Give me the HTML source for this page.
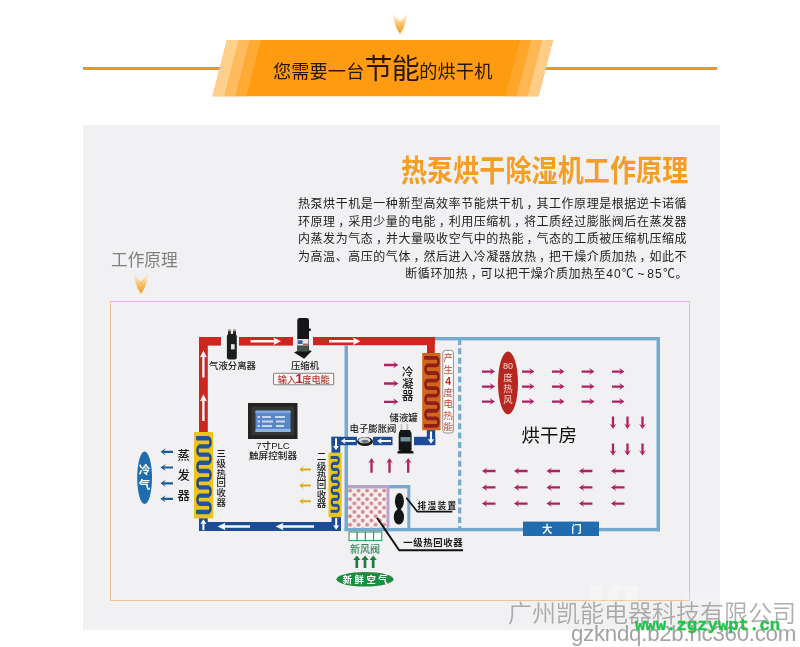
<!DOCTYPE html>
<html lang="zh-CN">
<head>
<meta charset="utf-8">
<title>热泵烘干除湿机工作原理</title>
<style>
html,body{margin:0;padding:0;background:#fff;}
body{width:800px;height:647px;position:relative;overflow:hidden;font-family:"Liberation Sans","Noto Sans CJK SC",sans-serif;}
.abs{position:absolute;white-space:nowrap;will-change:transform;}
#panel{left:83px;top:125px;width:637px;height:505px;background:#f1f1f3;}
#frame{left:110px;top:301px;width:577.8px;height:298.3px;border:1px solid #edc58e;}
#lineL{left:83px;top:67px;width:140px;height:3px;background:#ee9420;}
#lineR{left:544px;top:67px;width:173px;height:3px;background:#ee9420;}
#bannerText{left:272.5px;top:46.8px;height:44px;line-height:44px;color:#2a1600;font-size:18.2px;letter-spacing:0.1px;}
#bannerText b{font-weight:400;font-size:28px;position:relative;top:0.6px;letter-spacing:-0.6px;}
#title{left:401px;top:151.4px;font-size:26px;line-height:40px;font-weight:700;color:#f59e26;letter-spacing:0.12px;transform:scaleY(1.13);transform-origin:0 50%;}
#para{left:298px;top:196.1px;width:390px;font-size:12px;line-height:17.5px;color:#222;letter-spacing:0.55px;white-space:normal;}
#para div{white-space:nowrap;height:17.5px;}
#para div.r{text-align:right;}
#para .t{font-family:"Liberation Sans",sans-serif;letter-spacing:-0.2px;}
#para .n{letter-spacing:1.1px;}
#para i{font-style:normal;position:relative;left:2.6px;}
#label{left:111px;top:249.2px;font-size:16.7px;line-height:24px;color:#7f7f7f;letter-spacing:-0.05px;}
#wm1{left:508px;top:597.5px;font-size:24px;line-height:32px;color:rgba(140,140,140,.7);font-weight:350;}
#wm2{left:570.5px;top:620.4px;font-size:22.3px;line-height:28px;color:rgba(150,150,150,.88);letter-spacing:-0.28px;}
#wm3{left:635.3px;top:615.4px;font-size:17.3px;line-height:22px;font-weight:700;color:#20c34a;-webkit-text-stroke:0.35px #20c34a;font-family:"Liberation Mono",monospace;}
svg text{font-family:"Liberation Sans","Noto Sans CJK SC",sans-serif;}
</style>
</head>
<body>
<div id="panel" class="abs"></div>
<div id="lineL" class="abs"></div>
<div id="lineR" class="abs"></div>
<svg class="abs" style="left:0;top:0" width="800" height="647" viewBox="0 0 800 647">
  <defs>
    <linearGradient id="chev" x1="0" y1="0" x2="0" y2="1">
      <stop offset="0" stop-color="#ffe3b5" stop-opacity="0.15"/>
      <stop offset="0.5" stop-color="#fbc165"/>
      <stop offset="1" stop-color="#f09a22"/>
    </linearGradient>
    <g id="chevron">
      <path d="M-7.2 0 L0 8.5 L7.2 0 L6.9 4.5 L0 13 L-6.9 4.5 Z M-6.2 5.5 L0 13.2 L6.2 5.5 L5.6 9.6 L0 17.2 L-5.6 9.6 Z M-4.8 10.6 L0 16.8 L4.8 10.6 L3.9 14.6 L0 21 L-3.9 14.6 Z" fill="url(#chev)"/>
    </g>
  </defs>
  <!-- banner -->
  <g id="banner">
    <polygon points="227,40 553,40 538.5,96.3 212.5,96.3" fill="#ff9b10"/>
    <polygon points="227,40 239,40 224.5,96.3 212.5,96.3" fill="#ffd08c"/>
    <polygon points="239,40 250,40 235.5,96.3 224.5,96.3" fill="#ffbb5d"/>
    <polygon points="250,40 261,40 246.5,96.3 235.5,96.3" fill="#ffaa33"/>
    <polygon points="520,40 531,40 516.5,96.3 505.5,96.3" fill="#ffa62b"/>
    <polygon points="531,40 542,40 527.5,96.3 516.5,96.3" fill="#ffb754"/>
    <polygon points="542,40 553,40 538.5,96.3 527.5,96.3" fill="#ffcd88"/>
  </g>
  <use href="#chevron" x="400" y="13"/>
  <use href="#chevron" x="141" y="273"/>
</svg>
<div id="bannerText" class="abs">您需要一台<b>节能</b>的烘干机</div>
<div id="title" class="abs">热泵烘干除湿机工作原理</div>
<div id="para" class="abs">
<div>热泵烘干机是一种新型高效率节能烘干机<i>，</i>其工作原理是根据逆卡诺循</div>
<div>环原理<i>，</i>采用少量的电能<i>，</i>利用压缩机<i>，</i>将工质经过膨胀阀后在蒸发器</div>
<div>内蒸发为气态<i>，</i>并大量吸收空气中的热能<i>，</i>气态的工质被压缩机压缩成</div>
<div>为高温、高压的气体<i>，</i>然后进入冷凝器放热<i>，</i>把干燥介质加热<i>，</i>如此不</div>
<div class="r">断循环加热<i>，</i>可以把干燥介质加热至<span class="n">40</span>℃<span class="t">&nbsp;~&nbsp;</span><span class="n">85</span>℃。</div>
</div>
<div id="label" class="abs">工作原理</div>
<div id="frame" class="abs"></div>
<svg class="abs" style="left:0;top:0" width="800" height="647" viewBox="0 0 800 647">
<g id="room" fill="#76a9cf">
<rect x="434.8" y="337" width="225.2" height="3.4"/>
<rect x="656.5" y="337" width="3.5" height="194.3"/>
<rect x="344.5" y="527.9" width="315.5" height="3.4"/>
<rect x="344.5" y="345.5" width="3.5" height="185.5"/>
<rect x="388" y="485" width="22" height="3.4"/>
<rect x="407.3" y="485" width="3" height="45"/>
</g>
<line x1="459.7" y1="338.9" x2="459.7" y2="528" stroke="#76a9cf" stroke-width="3.2" stroke-dasharray="6 3.37"/>
<defs><pattern id="dots" x="348" y="488.4" width="8.5" height="8.54" patternUnits="userSpaceOnUse"><rect width="8.6" height="8.6" fill="#fbf0f0"/><circle cx="2.1" cy="2.2" r="2" fill="#cf8a91"/><circle cx="6.35" cy="6.47" r="2" fill="#cf8a91"/></pattern></defs>
<rect x="348" y="488.4" width="39.5" height="39.2" fill="url(#dots)"/>
<rect x="348" y="485" width="41" height="3.4" fill="#b2a3cf"/>
<rect x="386.6" y="485" width="2.8" height="42.6" fill="#b2a3cf"/>
<ellipse cx="399.4" cy="501.2" rx="4.5" ry="8.2" fill="#151515"/><rect x="397.4" y="505" width="3.6" height="8" fill="#151515"/>
<ellipse cx="398.9" cy="516.8" rx="5.2" ry="7.6" fill="#151515"/>
<g id="redpipe" fill="#c9271f">
<rect x="199" y="337" width="8.8" height="95"/>
<rect x="199" y="337" width="22" height="8.6"/>
<rect x="239" y="337" width="54" height="8.6"/>
<rect x="313" y="337" width="121.8" height="8.2"/>
<rect x="427" y="337" width="7.8" height="16.5"/>
</g>
<path d="M250.5 340 H274.25 L273.5 337.5 L281 341.2 L273.5 344.9 L274.25 342.4 H250.5 Z" fill="#fff7f5"/>
<path d="M329 340 H353.75 L353 337.5 L360.5 341.2 L353 344.9 L353.75 342.4 H329 Z" fill="#fff7f5"/>
<path d="M202.2 377.5 V356.8 L199.9 357.5 L203.4 350.5 L206.9 357.5 L204.6 356.8 V377.5 Z" fill="#fff7f5"/>
<path d="M202.2 421 V400.5 L199.9 401.2 L203.4 394.2 L206.9 401.2 L204.6 400.5 V421 Z" fill="#fff7f5"/>
<g id="bluepipe" fill="#1c4c97">
<rect x="199" y="522" width="142" height="9"/>
<rect x="199" y="518" width="8.8" height="6"/>
<rect x="331.5" y="517" width="9.5" height="14"/>
<rect x="331.5" y="436.8" width="8.8" height="16"/>
<rect x="331.5" y="436.8" width="25.5" height="8.4"/>
<rect x="373" y="436.8" width="19.5" height="8.4"/>
<rect x="414" y="436.8" width="21.2" height="8.4"/>
<rect x="426.8" y="430" width="8.4" height="15"/>
</g>
<path d="M250 525.25 H224.7 L225.5 522.8 L217.5 526.5 L225.5 530.2 L224.7 527.75 H250 Z" fill="#f3f7fc"/>
<path d="M314 525.25 H282.7 L283.5 522.8 L275.5 526.5 L283.5 530.2 L282.7 527.75 H314 Z" fill="#f3f7fc"/>
<path d="M202.4 530.3 V523.44 L200.3 523.9 L203.4 519.3 L206.5 523.9 L204.4 523.44 V530.3 Z" fill="#fff"/>
<path d="M335.2 518 V525.66 L333.1 525.2 L336.2 529.8 L339.3 525.2 L337.2 525.66 V518 Z" fill="#fff"/>
<path d="M335 438.3 V446.16 L332.9 445.7 L336 450.3 L339.1 445.7 L337 446.16 V438.3 Z" fill="#fff"/>
<path d="M355.5 440 H344.94 L345.4 438 L340.8 441 L345.4 444 L344.94 442 H355.5 Z" fill="#eef4fb"/>
<path d="M391 440 H381.14 L381.6 438 L377 441 L381.6 444 L381.14 442 H391 Z" fill="#eef4fb"/>
<path d="M429.95 431.5 V439.48 L427.8 439 L431 443.8 L434.2 439 L432.05 439.48 V431.5 Z" fill="#fff"/>
<rect x="194" y="432" width="19.2" height="86.4" fill="#ecc41c"/>
<path d="M196.3 438.2 H208.8 A1.7 4.1 0 0 1 208.8 446.4 H199.2 A1.7 4.1 0 0 0 199.2 454.6 H208.8 A1.7 4.1 0 0 1 208.8 462.8 H199.2 A1.7 4.1 0 0 0 199.2 471 H208.8 A1.7 4.1 0 0 1 208.8 479.2 H199.2 A1.7 4.1 0 0 0 199.2 487.4 H208.8 A1.7 4.1 0 0 1 208.8 495.6 H199.2 A1.7 4.1 0 0 0 199.2 503.8 H208.8 A1.7 4.1 0 0 1 208.8 512 H196.3" fill="none" stroke="#1d4689" stroke-width="2.4" stroke-linecap="butt"/><path d="M196.3 438.2H209.3M198.7 446.4H209.3M198.7 454.6H209.3M198.7 462.8H209.3M198.7 471H209.3M198.7 479.2H209.3M198.7 487.4H209.3M198.7 495.6H209.3M198.7 503.8H209.3M196.3 512H209.3" fill="none" stroke="#2054a2" stroke-width="4.4"/>
<rect x="422.2" y="353" width="18.3" height="77.2" fill="#d0661b"/>
<path d="M424.3 357.9 H436.7 A1.7 3.77 0 0 1 436.7 365.45 H427.2 A1.7 3.77 0 0 0 427.2 373 H436.7 A1.7 3.77 0 0 1 436.7 380.55 H427.2 A1.7 3.77 0 0 0 427.2 388.1 H436.7 A1.7 3.77 0 0 1 436.7 395.65 H427.2 A1.7 3.77 0 0 0 427.2 403.2 H436.7 A1.7 3.77 0 0 1 436.7 410.75 H427.2 A1.7 3.77 0 0 0 427.2 418.3 H436.7 A1.7 3.77 0 0 1 436.7 425.85 H424.3" fill="none" stroke="#861a17" stroke-width="2.4" stroke-linecap="butt"/><path d="M424.3 357.9H437.2M426.7 365.45H437.2M426.7 373H437.2M426.7 380.55H437.2M426.7 388.1H437.2M426.7 395.65H437.2M426.7 403.2H437.2M426.7 410.75H437.2M426.7 418.3H437.2M424.3 425.85H437.2" fill="none" stroke="#921e1a" stroke-width="3.8"/>
<rect x="328.5" y="452.8" width="13.2" height="64.4" fill="#ecc41c"/>
<path d="M330.8 457.5 H337.5 A1.2 2.98 0 0 1 337.5 463.47 H333 A1.2 2.98 0 0 0 333 469.44 H337.5 A1.2 2.98 0 0 1 337.5 475.41 H333 A1.2 2.98 0 0 0 333 481.38 H337.5 A1.2 2.98 0 0 1 337.5 487.35 H333 A1.2 2.98 0 0 0 333 493.32 H337.5 A1.2 2.98 0 0 1 337.5 499.29 H333 A1.2 2.98 0 0 0 333 505.26 H337.5 A1.2 2.98 0 0 1 337.5 511.23 H330.8" fill="none" stroke="#1d4689" stroke-width="2" stroke-linecap="butt"/><path d="M330.8 457.5H338M332.5 463.47H338M332.5 469.44H338M332.5 475.41H338M332.5 481.38H338M332.5 487.35H338M332.5 493.32H338M332.5 499.29H338M332.5 505.26H338M330.8 511.23H338" fill="none" stroke="#2054a2" stroke-width="3.2"/>
<g id="separator">
<rect x="228" y="329.8" width="2.8" height="5" fill="#2b2521"/><rect x="233" y="329.8" width="3" height="5" fill="#2b2521"/>
<rect x="228" y="329.8" width="2.8" height="1.6" fill="#a8947c"/><rect x="233" y="329.8" width="3" height="1.6" fill="#a8947c"/>
<rect x="226.9" y="334" width="9.9" height="25.4" rx="2.2" fill="#1a1f1e"/>
<rect x="231" y="344.2" width="3.6" height="5.2" fill="#e6e6e6"/>
</g>
<g id="compressor">
<path d="M294 352.6 L302.5 348.5 L311.8 351 L304.1 358.7 Z" fill="#151515"/>
<rect x="297.3" y="318" width="11.7" height="33.6" rx="2.4" fill="#14161a"/>
<rect x="297.6" y="345.5" width="11.1" height="6" fill="#46524e"/>
<rect x="297.3" y="339" width="11.2" height="6.5" fill="#e4e6ea"/>
<rect x="298" y="340.3" width="4.6" height="3.6" fill="#2f5fa8"/>
<rect x="303" y="343.6" width="5" height="1.4" fill="#c0504a"/>
<rect x="308.8" y="328.6" width="2" height="2.4" fill="#14161a"/>
</g>
<g id="plc">
<rect x="248" y="403" width="49.5" height="36" fill="#232323"/>
<rect x="251.5" y="406.5" width="42.5" height="29" fill="#333634"/>
<rect x="255.5" y="410.8" width="35" height="21" fill="#5a87c8"/>
<rect x="255.5" y="410.5" width="35" height="2.5" fill="#7fa9e0"/>
<rect x="255.5" y="429" width="35" height="3" fill="#8fb4e6"/>
<g fill="#dbe8fa" opacity=".85"><rect x="262" y="416" width="9" height="2"/><rect x="275" y="416" width="10" height="2"/><rect x="262" y="420.5" width="11" height="2"/><rect x="276" y="420.5" width="9" height="2"/><rect x="262" y="425" width="10" height="2"/><rect x="276" y="425" width="8" height="2"/><rect x="257.5" y="416" width="2.5" height="2"/><rect x="257.5" y="420.5" width="2.5" height="2"/><rect x="257.5" y="425" width="2.5" height="2"/></g>
</g>
<g id="valve">
<ellipse cx="365" cy="441.5" rx="8" ry="4.6" fill="#1a1a1a"/>
<ellipse cx="364.5" cy="440.3" rx="6" ry="3" fill="#d9dde2"/>
<ellipse cx="365" cy="441.3" rx="3.6" ry="1.6" fill="#6b7077"/>
</g>
<g id="tank">
<rect x="400.5" y="423.8" width="2" height="7" fill="#c4c9c4"/><rect x="406.2" y="423.8" width="2" height="7" fill="#c4c9c4"/>
<path d="M400.3 430 H410 Q411.6 432 411.6 436 V450.6 H398.7 V436 Q398.7 432 400.3 430 Z" fill="#141518"/>
<rect x="400.5" y="437" width="10" height="4.5" fill="#6f8fa6"/>
<path d="M397.5 451.5 Q405.5 447.5 413.5 451.5 L413.5 453.5 L397.5 453.5 Z" fill="#101010"/>
</g>
<g fill="#1a1a1a" font-size="9.4" font-weight="500">
<text x="232.5" y="369.2" text-anchor="middle">气液分离器</text>
<text x="305" y="369.2" text-anchor="middle">压缩机</text>
<text x="273" y="449.4" text-anchor="middle" font-size="9.6">7寸PLC</text>
<text x="273" y="459" text-anchor="middle" font-size="9.6">触屏控制器</text>
<text x="373" y="432" text-anchor="middle">电子膨胀阀</text>
<text x="403.6" y="421.4" text-anchor="middle">储液罐</text>
<text x="437.6" y="509.3" text-anchor="middle" font-size="8.6" font-weight="700" letter-spacing="1.4">排湿装置</text>
<text x="433.2" y="546" text-anchor="middle" font-size="9.4" font-weight="700" letter-spacing="0.6">一级热回收器</text>
</g>
<rect x="273.5" y="373.2" width="60.2" height="11.6" rx="1.2" fill="#faf6f6" stroke="#858585" stroke-width="1.1"/>
<text x="303.8" y="382.5" text-anchor="middle" font-size="9.2" font-weight="500" fill="#b53a30">输入<tspan font-weight="700" font-size="13" fill="#b3202a" dy="0.5" dx="-0.6">1</tspan><tspan dy="-0.5" dx="-0.6">度电能</tspan></text>
<rect x="442.8" y="350.4" width="10.6" height="82.6" rx="2.6" fill="#fff" stroke="#858585" stroke-width="0.9"/>
<text text-anchor="middle" font-size="9.4" fill="#c0452f"><tspan x="448.1" y="361.4">产</tspan><tspan x="448.1" y="372.9">生</tspan><tspan x="448.1" y="384.8" font-size="10.5" font-weight="700" fill="#c8281e">4</tspan><tspan x="448.1" y="395.9">度</tspan><tspan x="448.1" y="407.4">电</tspan><tspan x="448.1" y="418.9">热</tspan><tspan x="448.1" y="430.4">能</tspan></text>
<text font-size="12.4" fill="#1a1a1a" font-weight="500" text-anchor="middle"><tspan x="183.8" y="460.2">蒸</tspan><tspan x="183.8" y="480.2">发</tspan><tspan x="183.8" y="500.2">器</tspan></text>
<text font-size="9.4" fill="#1a1a1a" font-weight="500" text-anchor="middle"><tspan x="221.2" y="457.2">三</tspan><tspan x="221.2" y="466.95">级</tspan><tspan x="221.2" y="476.7">热</tspan><tspan x="221.2" y="486.45">回</tspan><tspan x="221.2" y="496.2">收</tspan><tspan x="221.2" y="505.95">器</tspan></text>
<text font-size="9.5" fill="#1a1a1a" font-weight="500" text-anchor="middle"><tspan x="321.5" y="460.2">二</tspan><tspan x="321.5" y="469.55">级</tspan><tspan x="321.5" y="478.9">热</tspan><tspan x="321.5" y="488.25">回</tspan><tspan x="321.5" y="497.6">收</tspan><tspan x="321.5" y="506.95">器</tspan></text>
<text font-size="11.4" fill="#1a1a1a" font-weight="500" text-anchor="middle"><tspan x="407.6" y="376">冷</tspan><tspan x="407.6" y="387.8">凝</tspan><tspan x="407.6" y="399.6">器</tspan></text>
<ellipse cx="144.6" cy="477.8" rx="7.4" ry="26.3" fill="#1f6cb0"/>
<text font-size="11.5" fill="#fff" font-weight="700" text-anchor="middle"><tspan x="144.6" y="474.4">冷</tspan><tspan x="144.6" y="488.5">气</tspan></text>
<path d="M173 450.7 H164.14 L165.7 448.2 L160.5 451.8 L165.7 455.4 L164.14 452.9 H173 Z" fill="#1d5c98"/>
<path d="M173 466.4 H164.14 L165.7 463.9 L160.5 467.5 L165.7 471.1 L164.14 468.6 H173 Z" fill="#1d5c98"/>
<path d="M173 482.2 H164.14 L165.7 479.7 L160.5 483.3 L165.7 486.9 L164.14 484.4 H173 Z" fill="#1d5c98"/>
<path d="M173 497.7 H164.14 L165.7 495.2 L160.5 498.8 L165.7 502.4 L164.14 499.9 H173 Z" fill="#1d5c98"/>
<path d="M311 468.4 H302.5 L304 466.1 L299 469.4 L304 472.7 L302.5 470.4 H311 Z" fill="#dcae28"/>
<path d="M311 484.6 H302.5 L304 482.3 L299 485.6 L304 488.9 L302.5 486.6 H311 Z" fill="#dcae28"/>
<path d="M311 500.3 H302.5 L304 498 L299 501.3 L304 504.6 L302.5 502.3 H311 Z" fill="#dcae28"/>
<path d="M384 363.85 H394.62 L393 361.5 L398.4 365 L393 368.5 L394.62 366.15 H384 Z" fill="#b02062"/>
<path d="M384 382.35 H394.62 L393 380 L398.4 383.5 L393 387 L394.62 384.65 H384 Z" fill="#b02062"/>
<path d="M384 400.65 H394.62 L393 398.3 L398.4 401.8 L393 405.3 L394.62 402.95 H384 Z" fill="#b02062"/>
<path d="M370.35 472.8 V461.78 L368 463.4 L371.5 458 L375 463.4 L372.65 461.78 V472.8 Z" fill="#b02062"/>
<path d="M388.35 472.8 V461.78 L386 463.4 L389.5 458 L393 463.4 L390.65 461.78 V472.8 Z" fill="#b02062"/>
<path d="M407.05 472.8 V461.78 L404.7 463.4 L408.2 458 L411.7 463.4 L409.35 461.78 V472.8 Z" fill="#b02062"/>
<ellipse cx="508" cy="383" rx="10" ry="31.5" fill="#b8271f"/>
<text text-anchor="middle" font-size="9.4" fill="#f6d9d4"><tspan x="508" y="368.5" font-size="9">80</tspan><tspan x="508" y="381.3">度</tspan><tspan x="508" y="392.1">热</tspan><tspan x="508" y="402.9">风</tspan></text>
<path d="M482 370.45 H491.22 L489.6 368.1 L495 371.6 L489.6 375.1 L491.22 372.75 H482 Z" fill="#b02062"/>
<path d="M522 370.45 H530.72 L529.1 368.1 L534.5 371.6 L529.1 375.1 L530.72 372.75 H522 Z" fill="#b02062"/>
<path d="M552 370.45 H560.72 L559.1 368.1 L564.5 371.6 L559.1 375.1 L560.72 372.75 H552 Z" fill="#b02062"/>
<path d="M581.6 370.45 H590.72 L589.1 368.1 L594.5 371.6 L589.1 375.1 L590.72 372.75 H581.6 Z" fill="#b02062"/>
<path d="M612 370.45 H620.72 L619.1 368.1 L624.5 371.6 L619.1 375.1 L620.72 372.75 H612 Z" fill="#b02062"/>
<path d="M482 385.45 H491.22 L489.6 383.1 L495 386.6 L489.6 390.1 L491.22 387.75 H482 Z" fill="#b02062"/>
<path d="M522 385.45 H530.72 L529.1 383.1 L534.5 386.6 L529.1 390.1 L530.72 387.75 H522 Z" fill="#b02062"/>
<path d="M552 385.45 H560.72 L559.1 383.1 L564.5 386.6 L559.1 390.1 L560.72 387.75 H552 Z" fill="#b02062"/>
<path d="M581.6 385.45 H590.72 L589.1 383.1 L594.5 386.6 L589.1 390.1 L590.72 387.75 H581.6 Z" fill="#b02062"/>
<path d="M612 385.45 H620.72 L619.1 383.1 L624.5 386.6 L619.1 390.1 L620.72 387.75 H612 Z" fill="#b02062"/>
<path d="M482 400.45 H491.22 L489.6 398.1 L495 401.6 L489.6 405.1 L491.22 402.75 H482 Z" fill="#b02062"/>
<path d="M522 400.45 H530.72 L529.1 398.1 L534.5 401.6 L529.1 405.1 L530.72 402.75 H522 Z" fill="#b02062"/>
<path d="M552 400.45 H560.72 L559.1 398.1 L564.5 401.6 L559.1 405.1 L560.72 402.75 H552 Z" fill="#b02062"/>
<path d="M581.6 400.45 H590.72 L589.1 398.1 L594.5 401.6 L589.1 405.1 L590.72 402.75 H581.6 Z" fill="#b02062"/>
<path d="M612 400.45 H620.72 L619.1 398.1 L624.5 401.6 L619.1 405.1 L620.72 402.75 H612 Z" fill="#b02062"/>
<path d="M611.85 416.6 V425.22 L609.5 423.6 L613 429 L616.5 423.6 L614.15 425.22 V416.6 Z" fill="#b02062"/>
<path d="M626.35 416.6 V425.22 L624 423.6 L627.5 429 L631 423.6 L628.65 425.22 V416.6 Z" fill="#b02062"/>
<path d="M641.35 416.6 V425.22 L639 423.6 L642.5 429 L646 423.6 L643.65 425.22 V416.6 Z" fill="#b02062"/>
<path d="M611.85 443.6 V451.82 L609.5 450.2 L613 455.6 L616.5 450.2 L614.15 451.82 V443.6 Z" fill="#b02062"/>
<path d="M626.35 443.6 V451.82 L624 450.2 L627.5 455.6 L631 450.2 L628.65 451.82 V443.6 Z" fill="#b02062"/>
<path d="M641.35 443.6 V451.82 L639 450.2 L642.5 455.6 L646 450.2 L643.65 451.82 V443.6 Z" fill="#b02062"/>
<path d="M495.5 469.85 H485.78 L487.4 467.5 L482 471 L487.4 474.5 L485.78 472.15 H495.5 Z" fill="#b02062"/>
<path d="M527.6 469.85 H517.78 L519.4 467.5 L514 471 L519.4 474.5 L517.78 472.15 H527.6 Z" fill="#b02062"/>
<path d="M560 469.85 H550.28 L551.9 467.5 L546.5 471 L551.9 474.5 L550.28 472.15 H560 Z" fill="#b02062"/>
<path d="M592.4 469.85 H582.78 L584.4 467.5 L579 471 L584.4 474.5 L582.78 472.15 H592.4 Z" fill="#b02062"/>
<path d="M624.5 469.85 H614.78 L616.4 467.5 L611 471 L616.4 474.5 L614.78 472.15 H624.5 Z" fill="#b02062"/>
<path d="M495.5 486.25 H485.78 L487.4 483.9 L482 487.4 L487.4 490.9 L485.78 488.55 H495.5 Z" fill="#b02062"/>
<path d="M527.6 486.25 H517.78 L519.4 483.9 L514 487.4 L519.4 490.9 L517.78 488.55 H527.6 Z" fill="#b02062"/>
<path d="M560 486.25 H550.28 L551.9 483.9 L546.5 487.4 L551.9 490.9 L550.28 488.55 H560 Z" fill="#b02062"/>
<path d="M592.4 486.25 H582.78 L584.4 483.9 L579 487.4 L584.4 490.9 L582.78 488.55 H592.4 Z" fill="#b02062"/>
<path d="M624.5 486.25 H614.78 L616.4 483.9 L611 487.4 L616.4 490.9 L614.78 488.55 H624.5 Z" fill="#b02062"/>
<path d="M495.5 502.45 H485.78 L487.4 500.1 L482 503.6 L487.4 507.1 L485.78 504.75 H495.5 Z" fill="#b02062"/>
<path d="M527.6 502.45 H517.78 L519.4 500.1 L514 503.6 L519.4 507.1 L517.78 504.75 H527.6 Z" fill="#b02062"/>
<path d="M560 502.45 H550.28 L551.9 500.1 L546.5 503.6 L551.9 507.1 L550.28 504.75 H560 Z" fill="#b02062"/>
<path d="M592.4 502.45 H582.78 L584.4 500.1 L579 503.6 L584.4 507.1 L582.78 504.75 H592.4 Z" fill="#b02062"/>
<path d="M624.5 502.45 H614.78 L616.4 500.1 L611 503.6 L616.4 507.1 L614.78 504.75 H624.5 Z" fill="#b02062"/>
<text x="549.3" y="441.8" text-anchor="middle" font-size="18.5" fill="#111">烘干房</text>
<rect x="523" y="521.6" width="76" height="14.4" fill="#1f6cb0"/>
<text x="541.9" y="533.1" font-size="10.4" font-weight="700" fill="#f4f8fc" letter-spacing="4.3" xml:space="preserve">大　门</text>
<path d="M406.3 497.8 L417.3 511.6 H452.4" fill="none" stroke="#111" stroke-width="1.7"/>
<path d="M377 517.7 L399.2 550.2 H463" fill="none" stroke="#111" stroke-width="1.9"/>
<g fill="#fff" stroke="#2f9150" stroke-width="1">
<rect x="349" y="532" width="8.2" height="8.6"/>
<rect x="357.2" y="532" width="8.2" height="8.6"/>
<rect x="365.4" y="532" width="8.2" height="8.6"/>
<rect x="373.6" y="532" width="8.2" height="8.6"/>
</g>
<text x="365" y="553" text-anchor="middle" font-size="10" font-weight="500" fill="#36885a">新风阀</text>
<path d="M355.45 568 V560 L353.2 560 L356.8 555.6 L360.4 560 L358.15 560 V568 Z" fill="#1f7a3e"/>
<path d="M363.65 568 V560 L361.4 560 L365 555.6 L368.6 560 L366.35 560 V568 Z" fill="#1f7a3e"/>
<path d="M371.85 568 V560 L369.6 560 L373.2 555.6 L376.8 560 L374.55 560 V568 Z" fill="#1f7a3e"/>
<ellipse cx="365" cy="579.3" rx="28.5" ry="7.3" fill="#1f8a42"/>
<text x="366.4" y="582.8" text-anchor="middle" font-size="9.4" font-weight="700" fill="#fff" letter-spacing="2.5">新鲜空气</text>
</svg>
<svg id="hclogo" class="abs" style="left:0;top:0" width="800" height="647" viewBox="0 0 800 647"><g fill="#fff" opacity=".3"><rect x="590" y="586" width="12" height="15"/><path d="M606 601 L613 586 H622 L615 601 Z"/><rect x="625" y="586" width="13" height="15"/><rect x="683" y="591" width="36" height="10" opacity=".6"/></g></svg>
<div id="wm1" class="abs">广州凯能电器科技有限公司</div>
<div id="wm2" class="abs">gzkndq.b2b.hc360.com</div>
<div id="wm3" class="abs">www.zgzywpt.cn</div>
</body>
</html>
